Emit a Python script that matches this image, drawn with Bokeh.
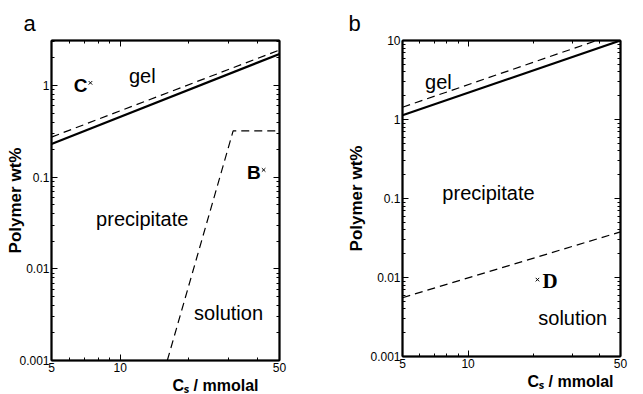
from bokeh.plotting import figure
from bokeh.models import (LogAxis, FixedTicker, CustomJSTickFormatter,
                          Range1d, Title)
from bokeh.layouts import row
from bokeh.embed import file_html
from bokeh.resources import INLINE
from bokeh.core.properties import value

# ---------------- data ----------------
x_lim = [5, 50]
a_y_lim = [0.001, 3.1]
b_y_lim = [0.001, 10]

x_major = [5, 10, 50]
x_labels = ["5", "10", "50"]
x_minor = [6, 7, 8, 9, 20, 30, 40]

a_y_major = [0.001, 0.01, 0.1, 1]
a_y_labels = ["0.001", "0.01", "0.1", "1"]
b_y_major = [0.001, 0.01, 0.1, 1, 10]
b_y_labels = ["0.001", "0.01", "0.1", "1", "10"]
y_minor = [m * 10.0 ** d for d in range(-3, 1) for m in range(2, 10)]

# panel a boundaries
a_solid_x = [5, 50]
a_solid_y = [0.23, 2.21]
a_dash_x = [5, 50]
a_dash_y = [0.274, 2.44]
a_bound_x = [16.1, 31.3, 50]
a_bound_y = [0.001, 0.32, 0.32]

# panel b boundaries
b_solid_x = [5, 50]
b_solid_y = [1.13, 10]
b_dash_hi_x = [5, 50]
b_dash_hi_y = [1.43, 12.7]
b_dash_lo_x = [5, 50]
b_dash_lo_y = [0.00555, 0.0378]

# region labels
a_regions = ["gel", "precipitate", "solution"]
a_region_x = [12.5, 12.5, 29.9]
a_region_y = [1.28, 0.035, 0.0033]
b_regions = ["gel", "precipitate", "solution"]
b_region_x = [7.31, 12.4, 30.2]
b_region_y = [2.95, 0.117, 0.0031]

# sample points
a_points = ["C", "B"]
a_point_x = [7.41, 42.6]
a_point_y = [1.07, 0.12]
b_points = ["D"]
b_point_x = [20.8]
b_point_y = [0.0094]

y_title = "Polymer wt%"
x_title = "Cₛ / mmolal"

FONT = "Liberation Sans"
DASH = "8 5"


def label_formatter(majors, names):
    return CustomJSTickFormatter(args=dict(majors=majors, names=names), code="""
        for (let i = 0; i < majors.length; i++) {
            if (Math.abs(Math.log10(tick) - Math.log10(majors[i])) < 1e-6) return names[i];
        }
        return '';
    """)


def style_axis(ax, show_labels):
    ax.axis_line_width = 2
    ax.axis_line_color = "black"
    ax.major_tick_in = 6
    ax.major_tick_out = 0
    ax.minor_tick_in = 3
    ax.minor_tick_out = 0
    ax.major_tick_line_width = 1
    ax.minor_tick_line_width = 1
    ax.major_tick_line_color = "black"
    ax.minor_tick_line_color = "black"
    if show_labels:
        ax.major_label_text_font = FONT
        ax.major_label_text_font_size = "12px"
        ax.major_label_text_color = "black"
        ax.major_label_standoff = 2
    else:
        ax.formatter = CustomJSTickFormatter(code="return '';")
        ax.major_label_text_font_size = "0px"
        ax.major_label_standoff = 0


def make_panel(frame_w, frame_h, left, right, y_lim, y_major, y_labels,
               letter, letter_offset, xlab_offset, ylab_standoff):
    p = figure(frame_width=frame_w, frame_height=frame_h,
               x_axis_type="log", y_axis_type="log",
               x_range=Range1d(*x_lim), y_range=Range1d(*y_lim),
               output_backend="svg", toolbar_location=None,
               min_border_left=left, min_border_right=right,
               min_border_top=40, min_border_bottom=0)
    p.grid.visible = False
    p.outline_line_color = "black"
    p.outline_line_width = 1.5
    p.xaxis[0].ticker = FixedTicker(ticks=x_major, minor_ticks=x_minor)
    p.yaxis[0].ticker = FixedTicker(ticks=y_major, minor_ticks=y_minor)
    p.xaxis[0].formatter = label_formatter(x_major, x_labels)
    p.yaxis[0].formatter = label_formatter(y_major, y_labels)
    style_axis(p.xaxis[0], True)
    style_axis(p.yaxis[0], True)
    p.yaxis[0].axis_label = y_title
    p.yaxis[0].axis_label_text_font = FONT
    p.yaxis[0].axis_label_text_font_size = "17px"
    p.yaxis[0].axis_label_text_font_style = "bold"
    p.yaxis[0].axis_label_text_color = "black"
    p.yaxis[0].axis_label_standoff = ylab_standoff
    top_ax = LogAxis(ticker=FixedTicker(ticks=x_major, minor_ticks=x_minor))
    right_ax = LogAxis(ticker=FixedTicker(ticks=y_major, minor_ticks=y_minor))
    style_axis(top_ax, False)
    style_axis(right_ax, False)
    p.add_layout(top_ax, "above")
    p.add_layout(right_ax, "right")
    # x-axis title (off-centre, like the reference)
    p.add_layout(Title(text=x_title, align="right", offset=xlab_offset,
                       text_font=FONT, text_font_size="16px",
                       text_font_style="bold", text_color="black",
                       standoff=0), "below")
    # panel letter
    p.add_layout(Title(text=letter, align="left", offset=letter_offset,
                       text_font=FONT, text_font_size="22px",
                       text_font_style="normal", text_color="black",
                       standoff=10), "above")
    return p


# ---------------- panel a ----------------
pa = make_panel(228, 320, 51, 41, a_y_lim, a_y_major, a_y_labels,
                "a", -28, 21, -9)
pa.line(a_solid_x, a_solid_y, line_color="black", line_width=2.2)
pa.line(a_dash_x, a_dash_y, line_color="black", line_width=1.2, line_dash=DASH)
pa.line(a_bound_x, a_bound_y, line_color="black", line_width=1.2, line_dash=DASH)
pa.text(a_region_x, a_region_y, text=a_regions, text_font=value(FONT),
        text_font_size="20px", text_align="center", text_baseline="middle",
        text_color="black")
pa.scatter(a_point_x, a_point_y, marker="x", size=5, line_color="black", line_width=1)
pa.text(a_point_x, a_point_y, text=a_points, text_font=value(FONT),
        text_font_size="19px", text_font_style="bold", text_align="right",
        text_baseline="middle", x_offset=-3, y_offset=3, text_color="black")

# ---------------- panel b ----------------
pb = make_panel(218, 316, 82, 20, b_y_lim, b_y_major, b_y_labels,
                "b", -54, 7, 1)
pb.line(b_solid_x, b_solid_y, line_color="black", line_width=2.2)
pb.line(b_dash_hi_x, b_dash_hi_y, line_color="black", line_width=1.2, line_dash=DASH)
pb.line(b_dash_lo_x, b_dash_lo_y, line_color="black", line_width=1.2, line_dash=DASH)
pb.text(b_region_x, b_region_y, text=b_regions, text_font=value(FONT),
        text_font_size="20px", text_align="center", text_baseline="middle",
        text_color="black")
pb.scatter(b_point_x, b_point_y, marker="x", size=5, line_color="black", line_width=1)
pb.text(b_point_x, b_point_y, text=b_points, text_font=value("Liberation Serif"),
        text_font_size="21px", text_font_style="bold", text_align="left",
        text_baseline="middle", x_offset=5, y_offset=1, text_color="black")

layout = row(pa, pb)
open("out.html", "w").write(file_html(layout, INLINE))
